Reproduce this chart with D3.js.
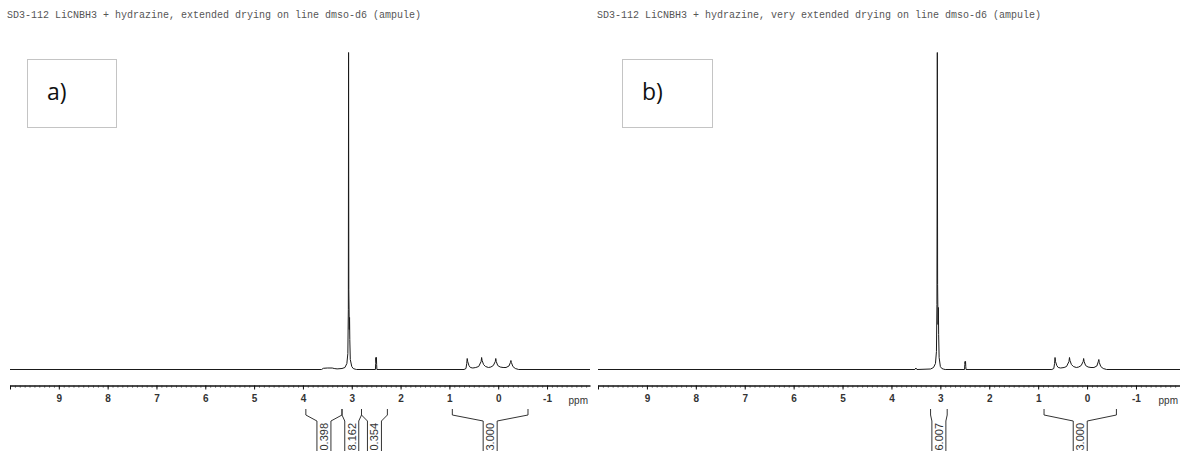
<!DOCTYPE html>
<html>
<head>
<meta charset="utf-8">
<script src="https://cdn.jsdelivr.net/npm/d3@7"></script>
<style>
  html, body { margin: 0; padding: 0; background: #fff; }
  svg { display: block; }
</style>
</head>
<body>
<svg id="chart" width="1180" height="451"></svg>
<script>
// ---------- data ----------
const titles = [
  "SD3-112 LiCNBH3 + hydrazine, extended drying on line dmso-d6 (ampule)",
  "SD3-112 LiCNBH3 + hydrazine, very extended drying on line dmso-d6 (ampule)"
];
const panelLabels = ["a)", "b)"];

// spectrum traces: [ppm, intensity]
const spectrumA = [
  [10,0],[3.62,0],[3.58,1.2],[3.5,1.5],[3.4,1.5],[3.36,1],[3.3,0.6],[3.2,1],[3.14,2],[3.10,6],
  [3.08,16],[3.07,60],[3.065,317],[3.06,80],[3.05,40],[3.045,52],[3.04,30],[3.03,10],[3.0,3],
  [2.97,1],[2.93,0.3],[2.9,0],[2.515,0],[2.51,6],[2.505,12],[2.50,8],[2.495,12],[2.49,5],[2.485,0],
  [0.70,0],[0.66,1],[0.645,6],[0.635,11],[0.625,8],[0.60,4],[0.57,2],[0.52,1.5],[0.46,2],[0.40,3],
  [0.35,8],[0.34,12],[0.33,9],[0.30,5],[0.26,3],[0.20,2],[0.15,2.5],[0.10,4],[0.06,8],[0.05,11],
  [0.04,8],[0.01,4],[-0.04,2.5],[-0.1,2],[-0.16,2],[-0.22,3.5],[-0.25,7],[-0.26,9],[-0.27,7],
  [-0.3,3],[-0.35,1],[-0.42,0],[-1.88,0]
];
const spectrumB = [
  [10,0],[3.52,0],[3.5,1.5],[3.48,0],[3.2,0.5],[3.14,2],[3.10,6],
  [3.08,18],[3.07,65],[3.062,317],[3.056,85],[3.048,45],[3.04,62],[3.035,35],[3.025,12],[3.0,3],
  [2.97,1],[2.93,0.3],[2.9,0],[2.505,0],[2.50,5],[2.495,8],[2.49,6],[2.485,8],[2.48,3],[2.475,0],
  [0.72,0],[0.68,1],[0.665,6],[0.655,12],[0.645,8],[0.62,4],[0.59,2],[0.54,1.5],[0.47,2],[0.42,3],
  [0.37,8],[0.36,12],[0.35,9],[0.32,5],[0.28,3],[0.22,2],[0.17,2.5],[0.12,4],[0.08,8],[0.07,11],
  [0.06,8],[0.03,4],[-0.02,2.5],[-0.08,2],[-0.14,2],[-0.20,3.5],[-0.23,8],[-0.24,10],[-0.25,7],
  [-0.28,3],[-0.33,1],[-0.40,0],[-1.9,0]
];

// integral regions: [from ppm, to ppm, label]
const integralsA = [
  [3.94, 3.20, "0.398"],
  [3.20, 2.80, "8.162"],
  [2.80, 2.27, "0.354"],
  [0.94, -0.61, "3.000"]
];
const integralsB = [
  [3.20, 2.86, "6.007"],
  [0.88, -0.60, "3.000"]
];

const majorTicks = [10, 9, 8, 7, 6, 5, 4, 3, 2, 1, 0, -1];
const tickLabels = ["", "9", "8", "7", "6", "5", "4", "3", "2", "1", "0", "-1"];
const axisUnit = "ppm";

// ---------- layout ----------
const svg = d3.select("#chart");
const panels = [
  { title: titles[0], label: panelLabels[0], spec: spectrumA, ints: integralsA,
    domain: [10, -1.88], range: [10, 590], titleX: 7, box: [27, 59, 89, 68] },
  { title: titles[1], label: panelLabels[1], spec: spectrumB, ints: integralsB,
    domain: [10, -1.9], range: [598, 1180], titleX: 597, box: [622, 59, 90, 68] }
];

const y = d3.scaleLinear().domain([0, 317]).range([369.5, 52.5]);
const axisY = 385.5;

panels.forEach(p => {
  const x = d3.scaleLinear().domain(p.domain).range(p.range);
  const g = svg.append("g");

  // title
  g.append("text")
    .attr("x", p.titleX).attr("y", 18)
    .attr("font-family", "Liberation Mono, monospace")
    .attr("font-size", 10)
    .attr("fill", "#555")
    .text(p.title);

  // label box
  g.append("rect")
    .attr("x", p.box[0] + 0.5).attr("y", p.box[1] + 0.5)
    .attr("width", p.box[2]).attr("height", p.box[3])
    .attr("fill", "#fff").attr("stroke", "#c4c4c4").attr("stroke-width", 1);
  g.append("text")
    .attr("x", p.box[0] + 20).attr("y", p.box[1] + 41)
    .attr("font-family", "Open Sans, sans-serif")
    .attr("font-size", 23)
    .attr("fill", "#111")
    .text(p.label);

  // spectrum
  const line = d3.line().x(d => x(d[0])).y(d => y(d[1]));
  g.append("path")
    .datum(p.spec)
    .attr("d", line)
    .attr("fill", "none")
    .attr("stroke", "#1a1a1a")
    .attr("stroke-width", 1);

  // axis: minor ticks
  const minor = d3.range(100, Math.floor(p.domain[1] * 10) - 1, -1).map(v => v / 10)
    .filter(v => v >= p.domain[1]);
  const axMinor = d3.axisBottom(x).tickValues(minor).tickSize(2).tickSizeOuter(0).tickFormat("");
  const gm = g.append("g").attr("transform", `translate(0,${axisY})`).call(axMinor);
  gm.select(".domain").attr("stroke", "#111").attr("stroke-width", 1.3);
  gm.selectAll(".tick line").attr("stroke", "#333");

  // axis: major ticks
  const axMajor = d3.axisBottom(x).tickValues(majorTicks).tickSize(4).tickSizeOuter(0)
    .tickFormat((d, i) => tickLabels[i]);
  const ga = g.append("g").attr("transform", `translate(0,${axisY})`).call(axMajor);
  ga.select(".domain").remove();
  ga.selectAll(".tick line").attr("stroke", "#111");
  ga.selectAll(".tick text")
    .attr("y", 9).attr("dy", "0.71em")
    .attr("font-family", "Liberation Sans, Arial, sans-serif")
    .attr("font-weight", "bold")
    .attr("font-size", 10)
    .attr("fill", "#333");

  // unit
  g.append("text")
    .attr("x", p.range[1] - 2).attr("y", 404)
    .attr("text-anchor", "end")
    .attr("font-family", "Liberation Sans, Arial, sans-serif")
    .attr("font-size", 10)
    .attr("fill", "#333")
    .text(axisUnit);

  // integrals
  const topY = 409, tickY = 415, boxY = 421, half = 7, botY = 460;
  p.ints.forEach(d => {
    const x1 = x(d[0]), x2 = x(d[1]);
    const cx = (x1 + x2) / 2;
    const path = `M${x1},${topY}V${tickY}L${cx - half},${boxY}V${botY}` +
                 `M${x2},${topY}V${tickY}L${cx + half},${boxY}V${botY}`;
    g.append("path").attr("d", path)
      .attr("fill", "none").attr("stroke", "#333").attr("stroke-width", 1);
    g.append("text")
      .attr("transform", `translate(${cx + 4},${boxY + 2}) rotate(-90)`)
      .attr("text-anchor", "end")
      .attr("font-family", "Liberation Sans, Arial, sans-serif")
      .attr("font-size", 11)
      .attr("fill", "#333")
      .text(d[2]);
  });
});
</script>
</body>
</html>
